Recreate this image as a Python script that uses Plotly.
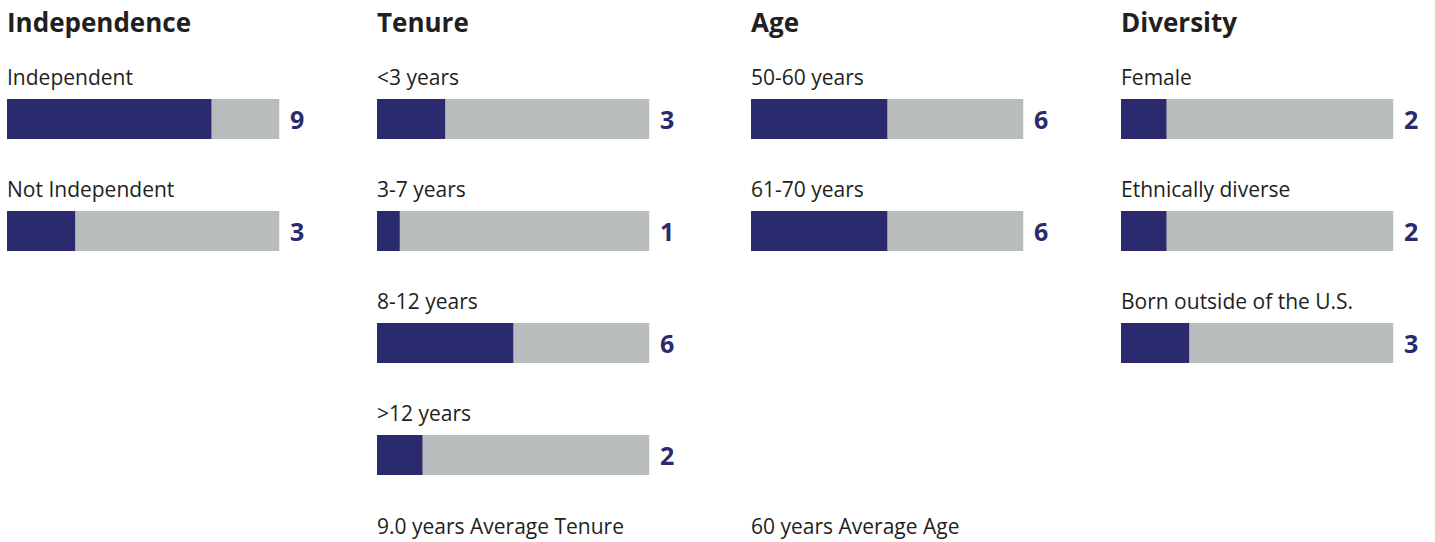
import plotly.graph_objects as go

# ---- data ----
group_titles = ["Independence", "Tenure", "Age", "Diversity"]
independence_labels = ["Independent", "Not Independent"]
independence_values = [9, 3]
tenure_labels = ["&lt;3 years", "3-7 years", "8-12 years", "&gt;12 years"]
tenure_values = [3, 1, 6, 2]
age_labels = ["50-60 years", "61-70 years"]
age_values = [6, 6]
diversity_labels = ["Female", "Ethnically diverse", "Born outside of the U.S."]
diversity_values = [2, 2, 3]
board_total = 12
footers = ["", "9.0 years Average Tenure", "60 years Average Age", ""]

groups = [
    (independence_labels, independence_values),
    (tenure_labels, tenure_values),
    (age_labels, age_values),
    (diversity_labels, diversity_values),
]

# ---- style ----
W, H = 1435, 542
NAVY = "#2B2A6E"
GRAY = "#B9BCBD"
TEXT = "#231F20"
FONT = "Open Sans"
col_left = [7, 377, 751, 1121]
bar_w_px = 272.5
row0_px, row_step_px, bar_h_px = 119, 112, 40

y_top = (0 - row0_px) / row_step_px
y_bot = (H - row0_px) / row_step_px
bar_width = bar_h_px / row_step_px

fig = go.Figure()
annotations = []
layout_axes = {}

for i, ((labels, values), title, footer) in enumerate(zip(groups, group_titles, footers)):
    n = i + 1
    xa = "x" if n == 1 else f"x{n}"
    ya = "y" if n == 1 else f"y{n}"
    idx = list(range(len(values)))
    fig.add_trace(go.Bar(
        x=[board_total] * len(values), y=idx, orientation="h",
        marker=dict(color=GRAY, line=dict(width=0)), width=bar_width,
        xaxis=xa, yaxis=ya, showlegend=False, hoverinfo="skip"))
    fig.add_trace(go.Bar(
        x=values, y=idx, orientation="h",
        marker=dict(color=NAVY, line=dict(width=0)), width=bar_width,
        xaxis=xa, yaxis=ya, showlegend=False,
        hovertemplate="%{x}<extra></extra>"))

    x0 = col_left[i] / W
    x1 = (col_left[i] + bar_w_px) / W
    layout_axes["xaxis" if n == 1 else f"xaxis{n}"] = dict(
        domain=[x0, x1], range=[0, board_total], visible=False,
        anchor=ya, fixedrange=True)
    layout_axes["yaxis" if n == 1 else f"yaxis{n}"] = dict(
        domain=[0, 1], range=[y_bot, y_top], visible=False,
        anchor=xa, fixedrange=True)

    # title
    annotations.append(dict(
        text=f"<b>{title}</b>", xref="paper", yref="paper",
        x=x0, y=1 - 22 / H, xanchor="left", yanchor="middle",
        showarrow=False, font=dict(family=FONT, size=26, color=TEXT), xshift=-2))
    for j, (lab, val) in enumerate(zip(labels, values)):
        annotations.append(dict(
            text=lab, xref=xa, yref=ya, x=0, y=j, yshift=42, xshift=-2,
            xanchor="left", yanchor="middle", showarrow=False,
            font=dict(family=FONT, size=21, color=TEXT)))
        annotations.append(dict(
            text=f"<b>{val}</b>", xref=xa, yref=ya, x=board_total, y=j,
            xshift=8, xanchor="left", yanchor="middle", showarrow=False,
            font=dict(family=FONT, size=25, color=NAVY)))
    if footer:
        annotations.append(dict(
            text=footer, xref="paper", yref="paper", x=x0, y=1 - 526 / H,
            xanchor="left", yanchor="middle", showarrow=False, xshift=-2,
            font=dict(family=FONT, size=21, color=TEXT)))

fig.update_layout(
    width=W, height=H, margin=dict(l=0, r=0, t=0, b=0),
    paper_bgcolor="white", plot_bgcolor="white",
    barmode="overlay", annotations=annotations, **layout_axes)

fig.write_html(
    "out.html",
    config={"displayModeBar": False},
    post_script="document.body.style.margin='0';document.body.style.overflow='hidden';",
)
